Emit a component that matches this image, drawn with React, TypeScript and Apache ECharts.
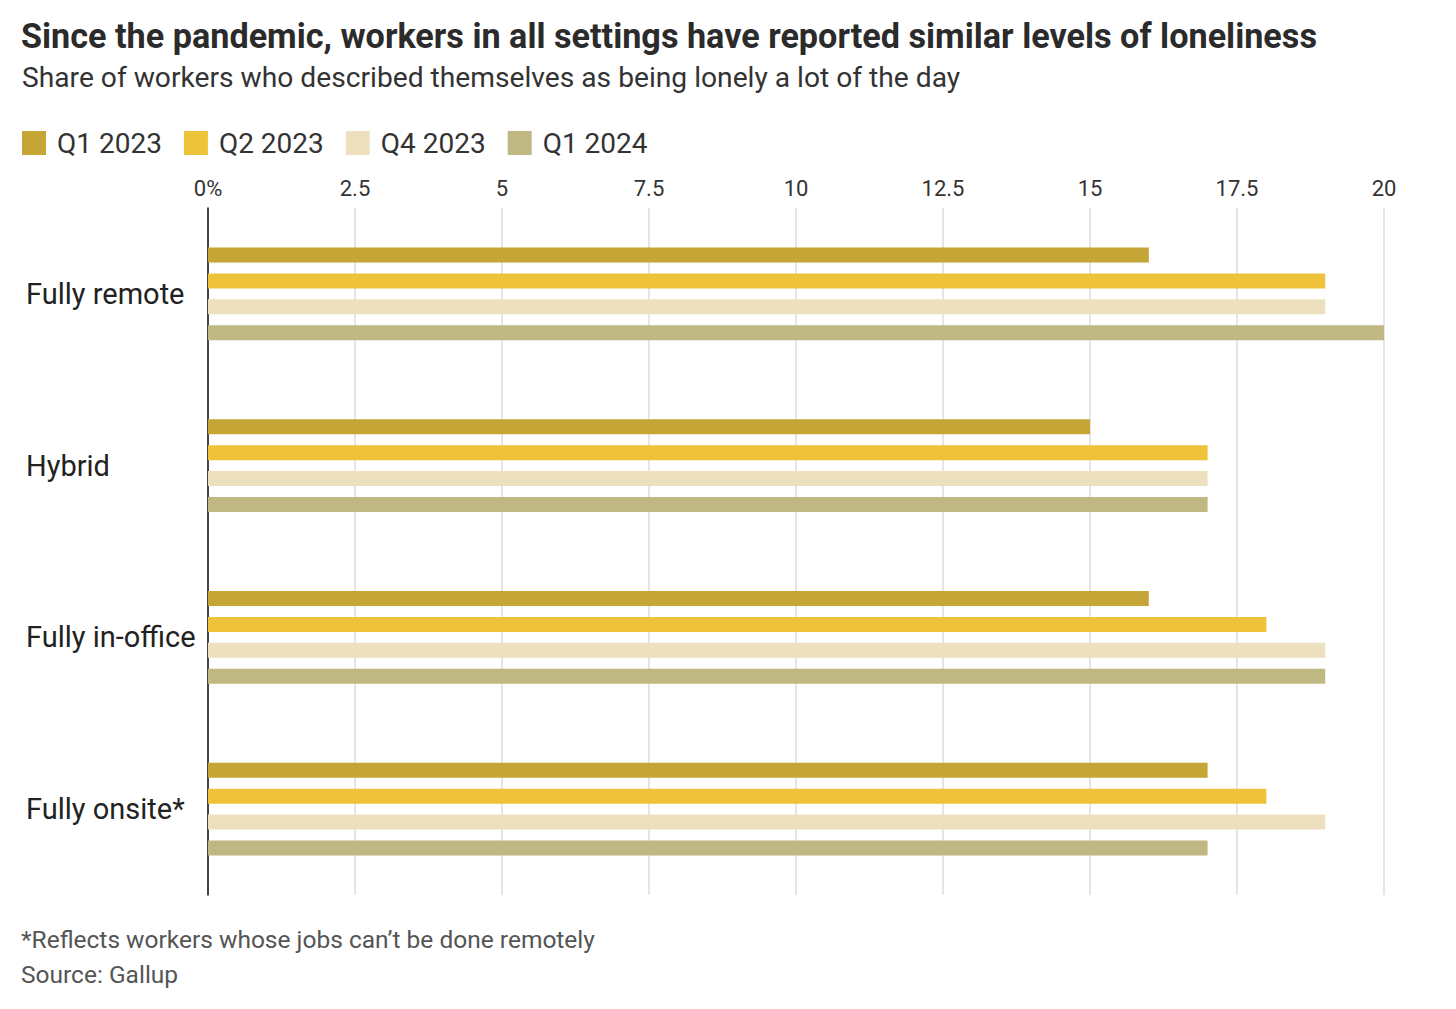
import React, { useEffect, useRef } from "react";
import * as echarts from "echarts";

const categories = ["Fully remote", "Hybrid", "Fully in-office", "Fully onsite*"];
const seriesNames = ["Q1 2023", "Q2 2023", "Q4 2023", "Q1 2024"];
const q1_2023 = [16, 15, 16, 17];
const q2_2023 = [19, 17, 18, 18];
const q4_2023 = [19, 17, 19, 19];
const q1_2024 = [20, 17, 19, 17];
const colors = ["#C4A535", "#EEC33A", "#EDE0BE", "#BFB883"];
const tickLabels: Record<string, string> = { "0": "0%" };

const FONT = "Roboto";

export default function App() {
  const ref = useRef<HTMLDivElement>(null);
  useEffect(() => {
    if (!ref.current) return;
    const chart = echarts.init(ref.current, null, { renderer: "svg" });
    const values = [q1_2023, q2_2023, q4_2023, q1_2024];
    chart.setOption({
      animation: false,
      backgroundColor: "#ffffff",
      textStyle: { fontFamily: FONT },
      title: [
        {
          text: "Since the pandemic, workers in all settings have reported similar levels of loneliness",
          left: 21,
          top: 19,
          padding: 0,
          textStyle: { fontFamily: FONT, fontSize: 34.2, fontWeight: "bold", color: "#2b2b2b" },
        },
        {
          text: "Share of workers who described themselves as being lonely a lot of the day",
          left: 22,
          top: 63,
          padding: 0,
          textStyle: { fontFamily: FONT, fontSize: 28.2, fontWeight: "normal", color: "#333333" },
        },
        {
          text: "*Reflects workers whose jobs can\u2019t be done remotely",
          left: 21,
          top: 927,
          padding: 0,
          textStyle: { fontFamily: FONT, fontSize: 24.5, fontWeight: "normal", color: "#555555" },
        },
        {
          text: "Source: Gallup",
          left: 21,
          top: 962,
          padding: 0,
          textStyle: { fontFamily: FONT, fontSize: 24.5, fontWeight: "normal", color: "#555555" },
        },
      ],
      legend: {
        left: 17,
        top: 124,
        icon: "rect",
        itemWidth: 24,
        itemHeight: 24,
        itemGap: 22,
        data: seriesNames,
        textStyle: { fontFamily: FONT, fontSize: 28, color: "#333333", padding: [0, 0, 0, 6] },
      },
      grid: { left: 208, right: 72, top: 208, bottom: 114, containLabel: false },
      xAxis: {
        type: "value",
        position: "top",
        min: 0,
        max: 20,
        interval: 2.5,
        axisLine: { show: false },
        axisTick: { show: false },
        splitLine: { show: true, lineStyle: { color: "#dddddd", width: 1.5 } },
        axisLabel: {
          margin: 9,
          fontFamily: FONT,
          fontSize: 22,
          color: "#333333",
          formatter: (v: number) => tickLabels[String(v)] ?? String(v),
        },
      },
      yAxis: {
        type: "category",
        inverse: true,
        data: categories,
        axisLine: { show: true, onZero: false, lineStyle: { color: "#111111", width: 1.5 } },
        axisTick: { show: false },
        splitLine: { show: false },
        axisLabel: {
          align: "left",
          margin: 182,
          padding: [6, 0, 0, 0],
          fontFamily: FONT,
          fontSize: 29,
          color: "#222222",
        },
      },
      series: seriesNames.map((name, i) => ({
        name,
        type: "bar",
        data: values[i],
        barWidth: 15,
        barGap: "73%",
        itemStyle: { color: colors[i] },
      })),
    });
    return () => chart.dispose();
  }, []);
  return (
    <div
      ref={ref}
      style={{ position: "absolute", left: 0, top: 0, width: 1456, height: 1009 }}
    />
  );
}
